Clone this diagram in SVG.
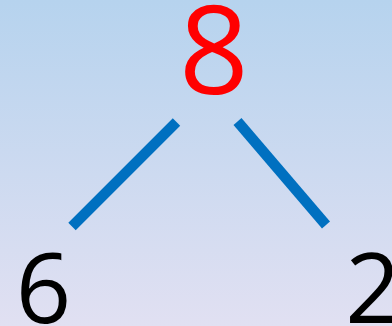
<svg xmlns="http://www.w3.org/2000/svg" width="392" height="326" viewBox="0 0 392 326">
<defs>
<linearGradient id="bg" x1="0" y1="0" x2="0" y2="1">
<stop offset="0" stop-color="#b6d3ee"/>
<stop offset="1" stop-color="#e1e0f2"/>
</linearGradient>
<style>
.num{font-family:"Open Sans","Liberation Sans",sans-serif;text-anchor:middle}
.edge{stroke:#0070c0;stroke-width:10.5;fill:none}
</style>
</defs>
<rect width="392" height="326" fill="url(#bg)"/>
<g id="connectors">
<line class="edge" x1="176.5" y1="122" x2="72" y2="226.5"/>
<line class="edge" x1="237.5" y1="121.5" x2="326" y2="225"/>
</g>
<g id="node-8"><text class="num" x="214" y="94" font-size="122" fill="#ff0000">8</text></g>
<g id="node-6"><text class="num" x="43.5" y="323" font-size="97" fill="#000000">6</text></g>
<g id="node-2"><text class="num" x="373" y="323" font-size="97" fill="#000000">2</text></g>
</svg>
